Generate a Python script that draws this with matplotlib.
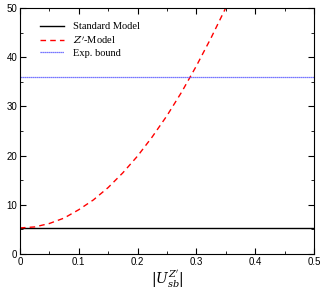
import matplotlib
matplotlib.use("Agg")
import matplotlib.pyplot as plt
from matplotlib.ticker import MultipleLocator

# values
sm_value = 5.3
bound_value = 36.0
zp_x = [0.0, 0.025, 0.05, 0.075, 0.1, 0.125, 0.15, 0.175, 0.2, 0.225, 0.25, 0.275, 0.3, 0.325, 0.35]
zp_y = [5.3, 5.5, 6.2, 7.3, 9.0, 11.0, 13.5, 16.5, 19.9, 23.8, 28.1, 32.9, 38.2, 43.9, 50.0]

plt.rcParams['font.family'] = ['Liberation Sans', 'DejaVu Sans']
plt.rcParams['mathtext.fontset'] = 'dejavuserif'

fig = plt.figure(figsize=(3.27, 2.94), dpi=100)
ax = fig.add_axes([0.061, 0.136, 0.899, 0.837])

ax.axhline(sm_value, color='black', lw=1.0, label='Standard Model')
ax.plot(zp_x, zp_y, color='red', lw=1.0, ls=(0, (4, 3)), label="$Z'$-Model")
ax.axhline(bound_value, color='#4a4aff', lw=0.9, ls=(0, (1, 0.6)), label='Exp. bound')

ax.set_xlim(0, 0.5)
ax.set_ylim(0, 50)
ax.xaxis.set_major_locator(MultipleLocator(0.1))
ax.xaxis.set_minor_locator(MultipleLocator(0.05))
ax.yaxis.set_major_locator(MultipleLocator(10))
ax.yaxis.set_minor_locator(MultipleLocator(5))
ax.tick_params(which='both', direction='in', top=True, right=True, labelsize=7, pad=2)
ax.tick_params(which='major', length=4)
ax.tick_params(which='minor', length=2)
ax.set_xticks([0, 0.1, 0.2, 0.3, 0.4, 0.5])
ax.set_xticklabels(['0', '0.1', '0.2', '0.3', '0.4', '0.5'])

ax.set_xlabel("$|U_{sb}^{Z'}|$", fontsize=10, labelpad=1)

leg = ax.legend(loc='upper left', bbox_to_anchor=(0.035, 0.981), frameon=False,
                prop={'family': 'Liberation Serif', 'size': 7.5},
                handlelength=2.3, labelspacing=0.28, handletextpad=0.9)

fig.savefig('out.png', dpi=100)
